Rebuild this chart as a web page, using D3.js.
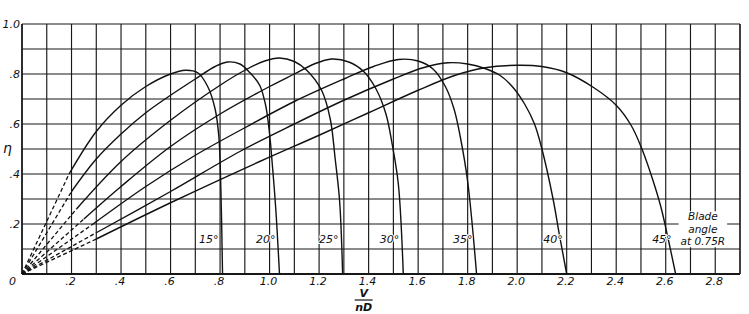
<!DOCTYPE html>
<html>
<head>
<meta charset="utf-8">
<script src="https://cdn.jsdelivr.net/npm/d3@7"></script>
<style>
  body { margin: 0; background: #fff; }
  text { font-family: 'DejaVu Sans', 'Liberation Sans', sans-serif; font-style: italic; fill: #111; }
</style>
</head>
<body>
<div id="chart"></div>
<script>
// blade angles and their efficiency curves, [V/nD, eta]
let angles = ['15°', '20°', '25°', '30°', '35°', '40°', '45°']

let blade15 = [[0.19, 0.4], [0.3, 0.57], [0.4, 0.675], [0.5, 0.75], [0.6, 0.8], [0.66, 0.815], [0.71, 0.805], [0.75, 0.75], [0.78, 0.66], [0.795, 0.55], [0.803, 0.35], [0.81, 0]]
let blade20 = [[0.2, 0.33], [0.3, 0.46], [0.4, 0.56], [0.5, 0.645], [0.6, 0.715], [0.7, 0.78], [0.78, 0.83], [0.83, 0.848], [0.88, 0.84], [0.92, 0.806], [0.96, 0.755], [0.985, 0.67], [1.0, 0.56], [1.01, 0.45], [1.025, 0.26], [1.04, 0]]
let blade25 = [[0.22, 0.26], [0.4, 0.45], [0.6, 0.615], [0.8, 0.755], [0.9, 0.815], [0.98, 0.852], [1.04, 0.864], [1.1, 0.85], [1.15, 0.815], [1.21, 0.735], [1.245, 0.62], [1.265, 0.46], [1.283, 0.29], [1.295, 0]]
let blade30 = [[0.25, 0.22], [0.4, 0.35], [0.6, 0.51], [0.8, 0.64], [1.0, 0.75], [1.1, 0.8], [1.18, 0.84], [1.25, 0.86], [1.32, 0.848], [1.38, 0.81], [1.43, 0.74], [1.47, 0.64], [1.495, 0.52], [1.52, 0.36], [1.54, 0]]
let blade35 = [[0.28, 0.195], [0.5, 0.35], [0.7, 0.475], [0.9, 0.585], [1.1, 0.69], [1.3, 0.78], [1.42, 0.83], [1.52, 0.858], [1.6, 0.852], [1.66, 0.82], [1.71, 0.75], [1.745, 0.66], [1.77, 0.55], [1.8, 0.37], [1.836, 0]]
let blade40 = [[0.3, 0.165], [0.6, 0.33], [0.88, 0.49], [1.1, 0.6], [1.3, 0.695], [1.5, 0.78], [1.62, 0.825], [1.72, 0.845], [1.8, 0.84], [1.87, 0.822], [1.93, 0.795], [1.98, 0.75], [2.03, 0.68], [2.07, 0.6], [2.1, 0.5], [2.145, 0.3], [2.17, 0.16], [2.2, 0]]
let blade45 = [[0.3, 0.14], [0.6, 0.285], [0.96, 0.45], [1.2, 0.555], [1.4, 0.645], [1.6, 0.735], [1.75, 0.795], [1.87, 0.825], [2.0, 0.835], [2.1, 0.83], [2.2, 0.805], [2.31, 0.745], [2.4, 0.675], [2.46, 0.595], [2.5, 0.51], [2.54, 0.4], [2.58, 0.27], [2.61, 0.14], [2.64, 0]]

let curves = [blade15, blade20, blade25, blade30, blade35, blade40, blade45]

let xTicks = [0.2, 0.4, 0.6, 0.8, 1.0, 1.2, 1.4, 1.6, 1.8, 2.0, 2.2, 2.4, 2.6, 2.8]
let xTickLabels = ['.2', '.4', '.6', '.8', '1.0', '1.2', '1.4', '1.6', '1.8', '2.0', '2.2', '2.4', '2.6', '2.8']
let yTicks = [0.2, 0.4, 0.6, 0.8, 1.0]
let yTickLabels = ['.2', '.4', '.6', '.8', '1.0']
let noteLines = ['Blade', 'angle', 'at 0.75R']

let margin = { top: 24, left: 22, right: 9, bottom: 40 }
let width = 749 - margin.left - margin.right
let height = 314 - margin.top - margin.bottom

let svg = d3
  .select('#chart')
  .append('svg')
  .attr('width', width + margin.left + margin.right)
  .attr('height', height + margin.top + margin.bottom)
  .append('g')
  .attr('transform', `translate(${margin.left}, ${margin.top})`)

let xScale = d3.scaleLinear().domain([0, 2.9]).range([0, width])
let yScale = d3.scaleLinear().domain([0, 1]).range([height, 0])

// grid every 0.1
let xGrid = d3.range(0, 30).map(d => d / 10)
let yGrid = d3.range(0, 11).map(d => d / 10)

svg
  .append('g')
  .selectAll('.vline')
  .data(xGrid.concat([2.9]))
  .enter()
  .append('line')
  .attr('x1', d => xScale(d))
  .attr('x2', d => xScale(d))
  .attr('y1', 0)
  .attr('y2', height)
  .attr('stroke', '#181818')
  .attr('stroke-width', d => (d === 0 ? 1.8 : 1.15))

svg
  .append('g')
  .selectAll('.hline')
  .data(yGrid)
  .enter()
  .append('line')
  .attr('x1', 0)
  .attr('x2', width)
  .attr('y1', d => yScale(d))
  .attr('y2', d => yScale(d))
  .attr('stroke', '#181818')
  .attr('stroke-width', d => (d === 0 ? 1.8 : 1.15))

// tick labels
svg
  .append('g')
  .selectAll('.xlabel')
  .data(xTicks)
  .enter()
  .append('text')
  .attr('x', d => xScale(d) - 1)
  .attr('y', height + 11)
  .attr('text-anchor', 'middle')
  .attr('font-size', 11)
  .text((d, i) => xTickLabels[i])

svg
  .append('g')
  .selectAll('.ylabel')
  .data(yTicks)
  .enter()
  .append('text')
  .attr('x', -2)
  .attr('y', d => yScale(d) + 4)
  .attr('text-anchor', 'end')
  .attr('font-size', 11)
  .text((d, i) => yTickLabels[i])

svg
  .append('text')
  .attr('x', -13)
  .attr('y', height + 11)
  .attr('font-size', 11)
  .text('0')

svg
  .append('text')
  .attr('x', -19)
  .attr('y', yScale(0.5) + 4)
  .attr('font-size', 14)
  .text('η')

// V / nD axis title
let titleX = xScale(1.38)
svg
  .append('text')
  .attr('x', titleX)
  .attr('y', height + 23)
  .attr('text-anchor', 'middle')
  .attr('font-size', 11)
  .attr('font-weight', 'bold')
  .text('V')
svg
  .append('line')
  .attr('x1', titleX - 9)
  .attr('x2', titleX + 9)
  .attr('y1', height + 26)
  .attr('y2', height + 26)
  .attr('stroke', '#111')
  .attr('stroke-width', 1.2)
svg
  .append('text')
  .attr('x', titleX)
  .attr('y', height + 37)
  .attr('text-anchor', 'middle')
  .attr('font-size', 11)
  .attr('font-weight', 'bold')
  .text('nD')

let line = d3
  .line()
  .x(d => xScale(d[0]))
  .y(d => yScale(d[1]))
  .curve(d3.curveCatmullRom.alpha(0.5))

// dashed lead-in from the origin
svg
  .append('g')
  .selectAll('.lead')
  .data(curves)
  .enter()
  .append('line')
  .attr('x1', xScale(0))
  .attr('y1', yScale(0))
  .attr('x2', d => xScale(d[0][0]))
  .attr('y2', d => yScale(d[0][1]))
  .attr('stroke', '#111')
  .attr('stroke-width', 1.3)
  .attr('stroke-dasharray', '4,2.5')

svg
  .append('g')
  .selectAll('.curve')
  .data(curves)
  .enter()
  .append('path')
  .attr('d', line)
  .attr('fill', 'none')
  .attr('stroke', '#111')
  .attr('stroke-width', 1.4)

// angle labels next to each curve foot
svg
  .append('g')
  .selectAll('.angle')
  .data(curves)
  .enter()
  .append('text')
  .attr('x', d => xScale(d[d.length - 1][0]) - 4)
  .attr('y', yScale(0.125))
  .attr('text-anchor', 'end')
  .attr('font-size', 11)
  .attr('stroke', '#fff')
  .attr('stroke-width', 2)
  .attr('paint-order', 'stroke')
  .text((d, i) => angles[i])

// legend note on a white patch
let noteX = xScale(2.75)
let noteTop = yScale(0.215)
let noteBox = svg.append('rect').attr('fill', '#fff')

let note = svg.append('g')
note
  .selectAll('text')
  .data(noteLines)
  .enter()
  .append('text')
  .attr('x', noteX)
  .attr('y', (d, i) => noteTop + i * 12.5)
  .attr('text-anchor', 'middle')
  .attr('font-size', 10.5)
  .text(d => d)

let bb = note.node().getBBox()
noteBox
  .attr('x', bb.x - 2)
  .attr('y', bb.y + 1)
  .attr('width', bb.width + 4)
  .attr('height', bb.height - 1)
</script>
</body>
</html>
